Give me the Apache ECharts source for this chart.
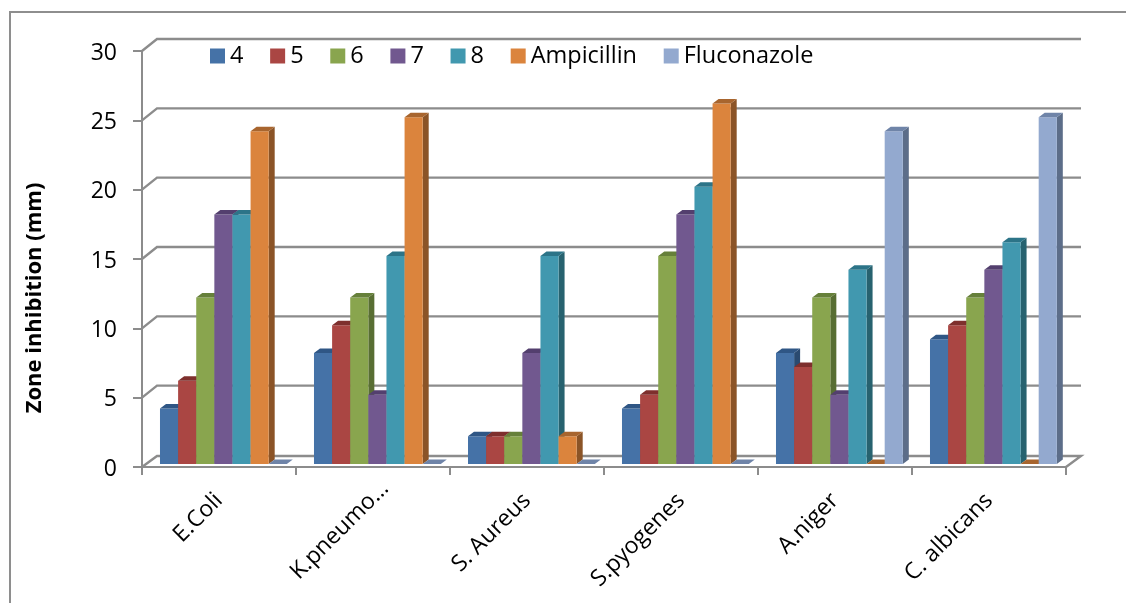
<!DOCTYPE html>
<html>
<head>
<meta charset="utf-8">
<style>html,body{margin:0;padding:0;background:#fff}#main{width:1126px;height:603px}</style>
<script src="https://cdn.jsdelivr.net/npm/echarts@6/dist/echarts.min.js"></script>
</head>
<body>
<div id="main"></div>
<script>
var categories = ['E.Coli', 'K.pneumo…', 'S. Aureus', 'S.pyogenes', 'A.niger', 'C. albicans'];
var yTicks = [0, 5, 10, 15, 20, 25, 30];

var names = ['4', '5', '6', '7', '8', 'Ampicillin', 'Fluconazole'];
var s4 = [4, 8, 2, 4, 8, 9];
var s5 = [6, 10, 2, 5, 7, 10];
var s6 = [12, 12, 2, 15, 12, 12];
var s7 = [18, 5, 8, 18, 5, 14];
var s8 = [18, 15, 15, 20, 14, 16];
var ampicillin = [24, 25, 2, 26, 0, 0];
var fluconazole = [0, 0, 0, 0, 24, 25];
var values = [s4, s5, s6, s7, s8, ampicillin, fluconazole];

var colors = ['#4572a7', '#aa4643', '#89a54e', '#71588f', '#4198af', '#db843d', '#93a9cf'];
var topColors = ['#2f5685', '#7e2f2d', '#66803a', '#533f6e', '#2c7488', '#a8652e', '#6f84a8'];
var sideColors = ['#2a4a70', '#6e2a28', '#586e33', '#46355d', '#27626f', '#8b5427', '#5c6d89'];

var lineColor = '#8c8c8c';
var font = '"Open Sans", sans-serif';
// depth of the fake 3d box
var wallX = 15, wallY = 12;
var barShiftX = 4.4, barShiftY = 3, depthX = 6, depthY = 4.5;

function renderWall(params, api) {
    var c = params.coordSys;
    var v = api.value(0);
    var y = api.coord([0, v])[1];
    var dy = v === 0 ? 11 : wallY;
    var pts = [[c.x, y], [c.x + wallX, y - dy], [c.x + c.width + wallX, y - dy]];
    if (v === 0) pts.push([c.x + c.width, y]);
    return {
        type: 'polyline',
        shape: { points: pts },
        style: { fill: null, stroke: lineColor, lineWidth: 2.4 },
        silent: true
    };
}

function renderBar(idx) {
    return function (params, api) {
        var cat = api.value(0);
        var val = api.value(1);
        var band = api.size([1, 0])[0];
        var w = band / 8.5;
        var x0 = api.coord([cat, 0])[0] - 3.5 * w + idx * w + barShiftX;
        var x1 = x0 + w;
        var yb = api.coord([cat, 0])[1] - barShiftY;
        var yt = api.coord([cat, val])[1] - barShiftY;
        var kids = [];
        if (val > 0) {
            kids.push({
                type: 'polygon',
                shape: { points: [[x1, yt], [x1 + depthX, yt - depthY], [x1 + depthX, yb - depthY], [x1, yb]] },
                style: { fill: sideColors[idx] }
            });
            kids.push({
                type: 'rect',
                shape: { x: x0, y: yt, width: w, height: yb - yt },
                style: { fill: colors[idx] }
            });
        }
        kids.push({
            type: 'polygon',
            shape: { points: [[x0, yt], [x0 + depthX, yt - depthY], [x1 + depthX, yt - depthY], [x1, yt]] },
            style: { fill: topColors[idx] }
        });
        return { type: 'group', children: kids };
    };
}

var series = [{
    type: 'custom',
    name: 'wall',
    renderItem: renderWall,
    data: yTicks.map(function (v) { return [v]; }),
    encode: { y: 0 },
    clip: false,
    silent: true,
    z: 1
}];
names.forEach(function (n, i) {
    series.push({
        type: 'custom',
        name: n,
        renderItem: renderBar(i),
        data: values[i].map(function (v, k) { return [k, v]; }),
        encode: { x: 0, y: 1 },
        itemStyle: { color: colors[i] },
        clip: false,
        z: 2
    });
});

var myChart = echarts.init(document.getElementById('main'));

var option = {
    animation: false,
    backgroundColor: '#fff',
    textStyle: { fontFamily: font },
    legend: {
        data: names,
        left: 205,
        top: 39,
        itemWidth: 15,
        itemHeight: 15,
        itemGap: 26.7,
        icon: 'rect',
        textStyle: { fontSize: 23.5, color: '#000', fontFamily: font, padding: [2, 0, 0, 0] }
    },
    grid: { left: 142, right: 60, top: 51, bottom: 136 },
    xAxis: {
        type: 'category',
        // the truncated label sits further along its slope in the original
        data: categories.map(function (c, i) {
            return i === 1 ? { value: c, textStyle: { padding: [0, -17, 0, 0] } } : c;
        }),
        axisLine: { lineStyle: { color: lineColor, width: 2 } },
        axisTick: { show: true, length: 8, lineStyle: { color: lineColor, width: 2 } },
        axisLabel: { rotate: 45, fontSize: 23, color: '#000', margin: 30, interval: 0, fontFamily: font }
    },
    yAxis: {
        type: 'value',
        min: 0,
        max: 30,
        interval: 5,
        axisLine: { show: true, lineStyle: { color: lineColor, width: 2 } },
        axisTick: { show: true, length: 9, lineStyle: { color: lineColor, width: 2 } },
        // top aligned with a short line box nudges the digits down a little
        axisLabel: { fontSize: 23, color: '#000', margin: 25, fontFamily: font, verticalAlign: 'top', lineHeight: 4 },
        splitLine: { show: false }
    },
    graphic: [{
        type: 'polyline',
        shape: { points: [[10, 603], [10, 12], [1126, 12]] },
        style: { fill: null, stroke: '#8e8e8e', lineWidth: 2 },
        silent: true
    }, {
        type: 'text',
        x: 35,
        y: 298,
        rotation: Math.PI / 2,
        style: {
            text: 'Zone inhibition (mm)',
            fontSize: 22,
            fontWeight: 'bold',
            fontFamily: font,
            fill: '#000',
            align: 'center',
            verticalAlign: 'middle'
        }
    }],
    series: series
};

myChart.setOption(option);
</script>
</body>
</html>
